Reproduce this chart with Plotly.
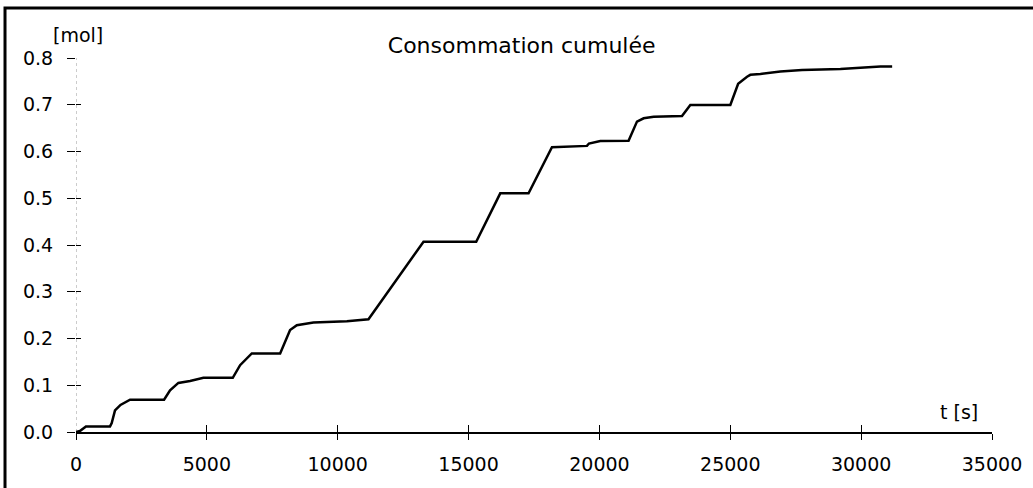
import plotly.graph_objects as go

# Cumulative consumption over time
t_s = [0, 150, 380, 1300, 1365, 1490, 1700, 2065, 3365, 3594, 3912, 4358, 4868,
       5990, 6270, 6716, 7800, 8180, 8437, 9073, 10350, 11176, 13278, 15292,
       16210, 17292, 18186, 19524, 19600, 20033, 21114, 21435, 21690, 22072,
       23155, 23473, 25002, 25300, 25640, 25767, 26150, 26914, 27743, 29208,
       30737, 31185]
n_mol = [0, 0.002, 0.012, 0.012, 0.019, 0.046, 0.058, 0.069, 0.069, 0.089,
         0.105, 0.109, 0.116, 0.116, 0.143, 0.168, 0.168, 0.218, 0.2285, 0.234,
         0.237, 0.241, 0.407, 0.407, 0.5105, 0.5105, 0.609, 0.612, 0.617,
         0.6225, 0.623, 0.664, 0.671, 0.6745, 0.676, 0.6996, 0.6996, 0.745,
         0.760, 0.764, 0.766, 0.771, 0.7745, 0.7767, 0.7816, 0.782]

x_ticks = [0, 5000, 10000, 15000, 20000, 25000, 30000, 35000]
y_ticks = [0.0, 0.1, 0.2, 0.3, 0.4, 0.5, 0.6, 0.7, 0.8]
y_tick_text = [f"{v:.1f}" for v in y_ticks]

FONT = "DejaVu Sans"

fig = go.Figure()
fig.add_trace(go.Scatter(x=t_s, y=n_mol, mode="lines",
                         line=dict(color="black", width=2.5),
                         showlegend=False, hoverinfo="skip"))
# empty trace so the overlay axes (inner tick halves) are drawn
fig.add_trace(go.Scatter(x=[None], y=[None], xaxis="x2", yaxis="y2",
                         showlegend=False, hoverinfo="skip"))

x_range = [0, 35000]
y_range = [0, 0.8]

fig.update_layout(
    width=1033, height=488,
    margin=dict(l=76, r=41, t=58, b=56),
    paper_bgcolor="white", plot_bgcolor="white",
    font=dict(family=FONT, size=19, color="black"),
    title=dict(text="Consommation cumulée", x=0.505, xanchor="center",
               y=0.908, yanchor="middle",
               font=dict(family=FONT, size=22, color="black")),
    xaxis=dict(range=x_range, tickvals=x_ticks, ticktext=[str(v) for v in x_ticks],
               ticks="outside", ticklen=6, tickwidth=1, tickcolor="black",
               showline=True, linecolor="black", linewidth=1.5,
               showgrid=False, zeroline=False, ticklabelstandoff=8),
    yaxis=dict(range=y_range, tickvals=y_ticks, ticktext=y_tick_text,
               ticks="outside", ticklen=8, tickwidth=1, tickcolor="black",
               showline=False, showgrid=False, zeroline=False,
               ticklabelstandoff=10),
    xaxis2=dict(range=x_range, overlaying="x", anchor="y", side="bottom",
                tickvals=x_ticks, ticks="inside", ticklen=7, tickwidth=1,
                tickcolor="black", showticklabels=False, showgrid=False,
                zeroline=False, showline=False),
    yaxis2=dict(range=y_range, overlaying="y", anchor="x", side="left",
                tickvals=y_ticks, ticks="inside", ticklen=5, tickwidth=1,
                tickcolor="black", showticklabels=False, showgrid=False,
                zeroline=False, showline=False),
    shapes=[
        # faint dotted vertical axis
        dict(type="line", xref="x", yref="y", x0=0, x1=0, y0=0, y1=0.8,
             line=dict(color="#9a9a9a", width=1, dash="dot"), layer="below"),
        # outer frame
        dict(type="rect", xref="paper", yref="paper",
             x0=-0.0775, x1=1.06, y0=-0.17, y1=1.134,
             line=dict(color="black", width=3)),
    ],
    annotations=[
        dict(text="[mol]", xref="paper", yref="paper", x=0.002, y=1.061,
             xanchor="center", yanchor="middle", showarrow=False,
             font=dict(family=FONT, size=19, color="black")),
        dict(text="t [s]", xref="paper", yref="paper", x=0.964, y=0.0535,
             xanchor="center", yanchor="middle", showarrow=False,
             font=dict(family=FONT, size=19, color="black")),
    ],
)

fig.write_html("out.html")
